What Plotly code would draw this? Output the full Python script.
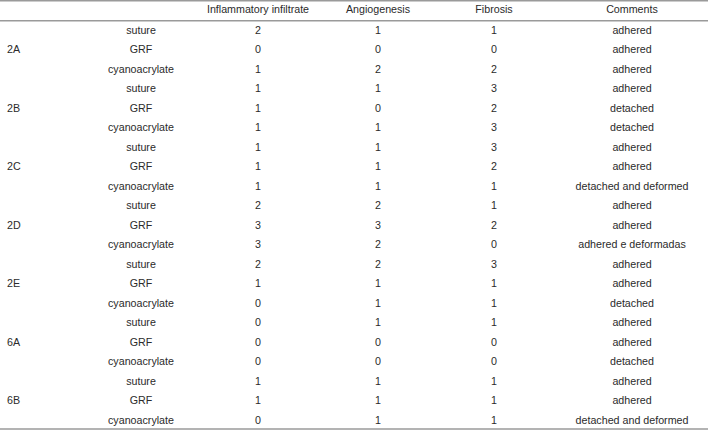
import plotly.graph_objects as go

groups = ["2A", "2B", "2C", "2D", "2E", "6A", "6B"]
treatments = ["suture", "GRF", "cyanoacrylate"]
headers = ["Inflammatory infiltrate", "Angiogenesis", "Fibrosis", "Comments"]
inflammatory = [2, 0, 1, 1, 1, 1, 1, 1, 1, 2, 3, 3, 2, 1, 0, 0, 0, 0, 1, 1, 0]
angiogenesis = [1, 0, 2, 1, 0, 1, 1, 1, 1, 2, 3, 2, 2, 1, 1, 1, 0, 0, 1, 1, 1]
fibrosis = [1, 0, 2, 3, 2, 3, 3, 2, 1, 1, 2, 0, 3, 1, 1, 1, 0, 0, 1, 1, 1]
comments = ["adhered", "adhered", "adhered",
            "adhered", "detached", "detached",
            "adhered", "adhered", "detached and deformed",
            "adhered", "adhered", "adhered e deformadas",
            "adhered", "adhered", "detached",
            "adhered", "adhered", "detached",
            "adhered", "adhered", "detached and deformed"]

W, H = 708, 430
col_x = [258, 378, 494, 632]
treat_x = 141
group_x = 7
header_y = 10.5
row0 = 31
row_h = 19.5
FONT = "Liberation Sans, Arial, Helvetica, sans-serif"
COLOR = "#2b2b2b"
fsize = 10.7

n = len(inflammatory)
rows_y = [row0 + i * row_h for i in range(n)]

fig = go.Figure()
# rule lines
for yy in [0.75, 20.75, 429]:
    fig.add_trace(go.Scatter(x=[0, W], y=[yy, yy], mode="lines",
                             line=dict(color="#9a9a9a", width=1.5),
                             hoverinfo="skip", showlegend=False, cliponaxis=False))
# headers
fig.add_trace(go.Scatter(x=col_x, y=[header_y] * 4, mode="text", text=headers,
                         textposition="middle center",
                         textfont=dict(family=FONT, size=fsize, color=COLOR),
                         hoverinfo="skip", showlegend=False))
# treatments
fig.add_trace(go.Scatter(x=[treat_x] * n, y=rows_y, mode="text",
                         text=[treatments[i % 3] for i in range(n)],
                         textposition="middle center",
                         textfont=dict(family=FONT, size=fsize, color=COLOR),
                         hoverinfo="skip", showlegend=False))
# groups
fig.add_trace(go.Scatter(x=[group_x] * len(groups),
                         y=[rows_y[3 * g + 1] for g in range(len(groups))],
                         mode="text", text=groups, textposition="middle right",
                         textfont=dict(family=FONT, size=fsize, color=COLOR),
                         hoverinfo="skip", showlegend=False))
for cx, vals in zip(col_x, [inflammatory, angiogenesis, fibrosis, comments]):
    fig.add_trace(go.Scatter(x=[cx] * n, y=rows_y, mode="text",
                             text=[str(v) for v in vals],
                             textposition="middle center",
                             textfont=dict(family=FONT, size=fsize, color=COLOR),
                             hoverinfo="skip", showlegend=False))

fig.update_layout(width=W, height=H, margin=dict(l=0, r=0, t=0, b=0, pad=0),
                  paper_bgcolor="white", plot_bgcolor="white",
                  xaxis=dict(range=[0, W], visible=False, fixedrange=True),
                  yaxis=dict(range=[H, 0], visible=False, fixedrange=True))
fig.write_html("out.html", config={"displayModeBar": False},
               post_script="document.body.style.margin='0';document.body.style.padding='0';")
